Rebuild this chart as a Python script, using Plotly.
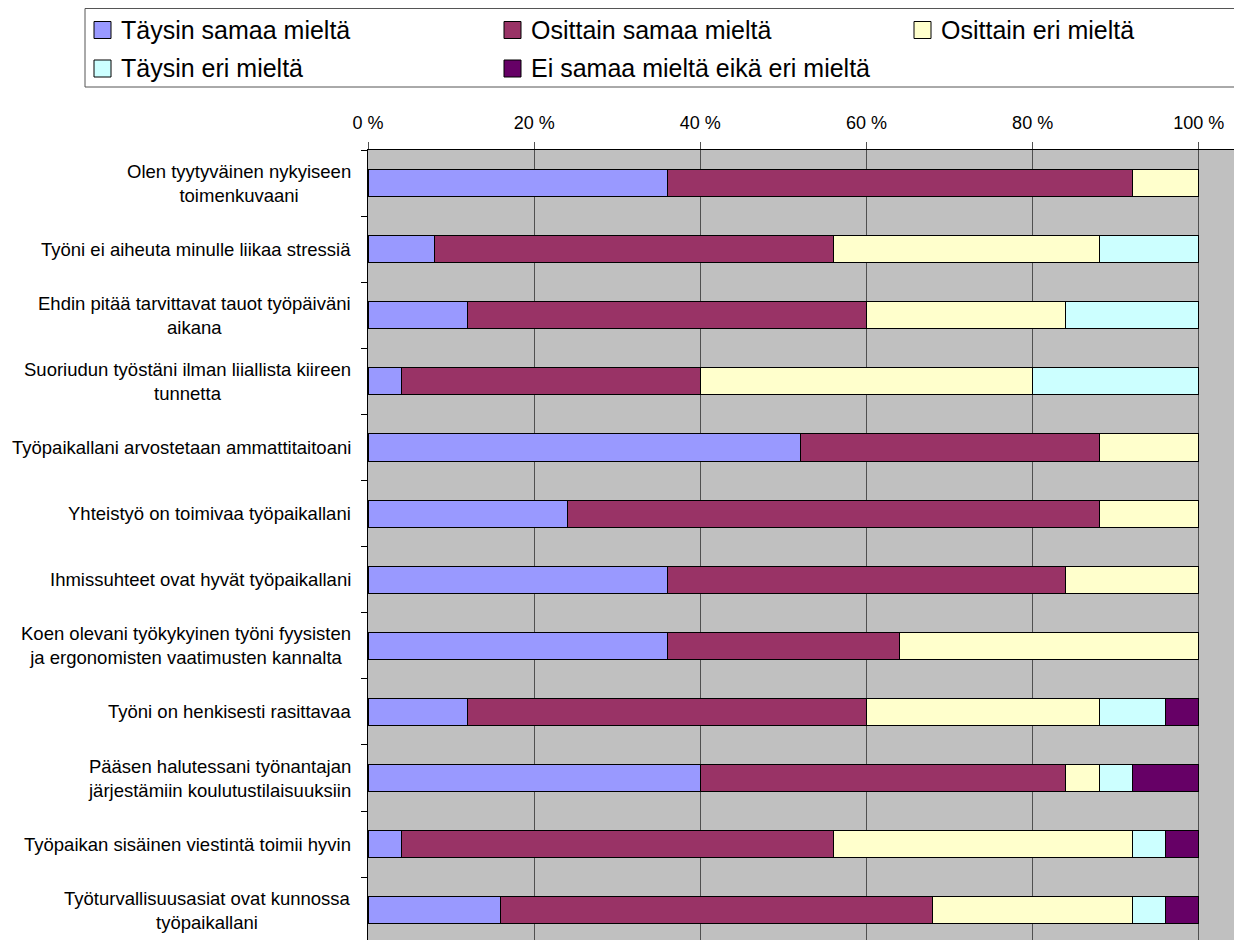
import plotly.graph_objects as go

categories = [
    "Olen tyytyväinen nykyiseen<br>toimenkuvaani",
    "Työni ei aiheuta minulle liikaa stressiä",
    "Ehdin pitää tarvittavat tauot työpäiväni<br>aikana",
    "Suoriudun työstäni ilman liiallista kiireen<br>tunnetta",
    "Työpaikallani arvostetaan ammattitaitoani",
    "Yhteistyö on toimivaa työpaikallani",
    "Ihmissuhteet ovat hyvät työpaikallani",
    "Koen olevani työkykyinen työni fyysisten<br>ja ergonomisten vaatimusten kannalta",
    "Työni on henkisesti rasittavaa",
    "Pääsen halutessani työnantajan<br>järjestämiin koulutustilaisuuksiin",
    "Työpaikan sisäinen viestintä toimii hyvin",
    "Työturvallisuusasiat ovat kunnossa<br>työpaikallani",
]

series_names = [
    "Täysin samaa mieltä",
    "Osittain samaa mieltä",
    "Osittain eri mieltä",
    "Täysin eri mieltä",
    "Ei samaa mieltä eikä eri mieltä",
]

taysin_samaa = [36, 8, 12, 4, 52, 24, 36, 36, 12, 40, 4, 16]
osittain_samaa = [56, 48, 48, 36, 36, 64, 48, 28, 48, 44, 52, 52]
osittain_eri = [8, 32, 24, 40, 12, 12, 16, 36, 28, 4, 36, 24]
taysin_eri = [0, 12, 16, 20, 0, 0, 0, 0, 8, 4, 4, 4]
ei_samaa_eika_eri = [0, 0, 0, 0, 0, 0, 0, 0, 4, 8, 4, 4]

x_tickvals = [0, 20, 40, 60, 80, 100]
x_ticklabels = ["0 %", "20 %", "40 %", "60 %", "80 %", "100 %"]

colors = ["#9999FF", "#993366", "#FFFFCC", "#CCFFFF", "#660066"]
series_values = [taysin_samaa, osittain_samaa, osittain_eri, taysin_eri, ei_samaa_eika_eri]

FONT = "Liberation Sans, Arial, sans-serif"
OFF = 8  # page body margin
W, H = 1242 - OFF, 940 - OFF
L, R, T, B = 368 - OFF, 0, 150 - OFF, 0
PW, PH = W - L - R, H - T - B


def px_x(px):
    # px in window coordinates
    return (px - OFF - L) / PW


def px_y(py):
    return (H - B - (py - OFF)) / PH


fig = go.Figure()
for name, vals, col in zip(series_names, series_values, colors):
    fig.add_trace(go.Bar(
        name=name, y=categories, x=vals, orientation="h",
        marker=dict(color=col, line=dict(color="#000000", width=1)),
        showlegend=False,
    ))

annotations = []
for c in categories:
    annotations.append(dict(
        xref="paper", yref="y", x=0, y=c, xanchor="right", yanchor="middle",
        xshift=-15, text=c, showarrow=False, align="center",
        font=dict(family=FONT, size=18.5, color="#000000"),
    ))

shapes = [dict(
    type="rect", xref="paper", yref="paper",
    x0=px_x(85), x1=px_x(1262), y0=px_y(87), y1=px_y(0.5 + OFF) if False else px_y(OFF + 0.5),
    line=dict(color="#555555", width=1), fillcolor="rgba(0,0,0,0)", layer="above",
)]
# legend box top edge sits at the very top of the visible area
shapes[0]["y1"] = px_y(OFF + 0.5)
shapes[0]["y1"] = (H - 0.5) / PH + (B / PH) - 0 if False else (H - 0.5 - B) / PH * 1.0 + 0
for i, (name, col) in enumerate(zip(series_names, colors)):
    colidx, rowidx = i % 3, i // 3
    sx = 94 + 410 * colidx
    cy = 30 + 38.5 * rowidx
    shapes.append(dict(
        type="rect", xref="paper", yref="paper",
        x0=px_x(sx), x1=px_x(sx + 17), y0=px_y(cy + 8.5), y1=px_y(cy - 8.5),
        line=dict(color="#000000", width=1), fillcolor=col, layer="above",
    ))
    annotations.append(dict(
        xref="paper", yref="paper", x=px_x(sx + 25), y=px_y(cy),
        xanchor="left", yanchor="middle", text=name, showarrow=False,
        font=dict(family=FONT, size=25, color="#000000"),
    ))

fig.update_layout(
    width=W, height=H,
    margin=dict(l=L, r=R, t=T, b=B, pad=0),
    barmode="stack", bargap=0.59,
    plot_bgcolor="#C0C0C0", paper_bgcolor="#FFFFFF",
    font=dict(family=FONT, size=18, color="#000000"),
    shapes=shapes, annotations=annotations,
    showlegend=False,
)
fig.update_xaxes(
    side="top", range=[0, 105.2], tickmode="array", tickvals=x_tickvals, ticktext=x_ticklabels,
    showgrid=True, gridcolor="#505050", gridwidth=1, zeroline=False,
    ticks="outside", ticklen=7, tickcolor="#505050", tickwidth=1,
    showline=True, linecolor="#000000", linewidth=1,
    tickfont=dict(family=FONT, size=18, color="#000000"),
    ticklabelstandoff=6,
)
fig.update_yaxes(
    type="category", categoryorder="array", categoryarray=categories,
    range=[11.45, -0.5], showticklabels=False, showgrid=False, zeroline=False,
    ticks="outside", tickson="boundaries", ticklen=6, tickcolor="#000000",
    showline=True, linecolor="#000000", linewidth=1,
)

fig.write_html("out.html")
